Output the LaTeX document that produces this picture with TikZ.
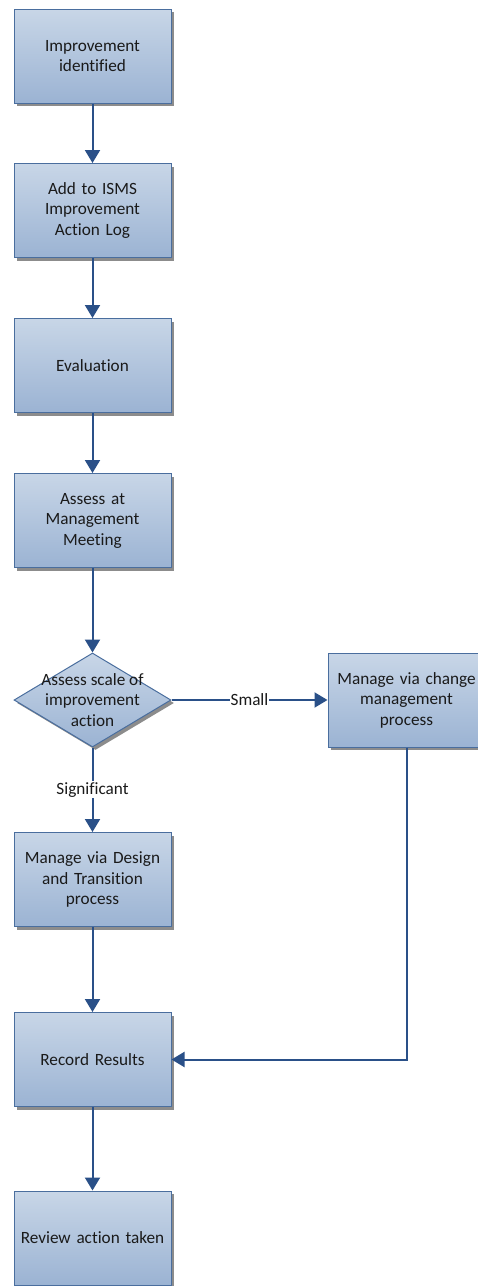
\documentclass[tikz,border=0pt]{standalone}
\usepackage{fontspec}
\setmainfont[Ligatures=NoCommon]{Carlito}
\usetikzlibrary{shapes.geometric,shadows,arrows.meta}

\definecolor{boxtop}{HTML}{C8D6E7}
\definecolor{boxbot}{HTML}{9BB3D3}
\definecolor{boxedge}{HTML}{4A6E9E}
\definecolor{flow}{HTML}{2A5088}
\definecolor{ink}{HTML}{1A1A1A}

\begin{document}
\begin{tikzpicture}[x=1pt, y=1pt, node distance=155pt, auto,
    font=\fontsize{17.2}{20.5}\selectfont, text=ink,
    block/.style={rectangle, draw=boxedge, line width=1pt, top color=boxtop, bottom color=boxbot,
    text width=155pt, align=center, minimum width=157pt, minimum height=94pt,
    inner sep=1pt, drop shadow={shadow xshift=3pt, shadow yshift=-3pt, fill=black!45, opacity=1}},
    decision/.style={diamond, draw=boxedge, line width=1pt, top color=boxtop, bottom color=boxbot,
    minimum width=157pt, minimum height=94pt, inner sep=0pt,
    drop shadow={shadow xshift=3pt, shadow yshift=-3pt, fill=black!45, opacity=1}},
    line/.style={draw=flow, line width=2pt, -{Triangle[length=13pt, width=15pt]}},
    tag/.style={fill=white, inner sep=1pt, anchor=center}]

\useasboundingbox (0,0) rectangle (477,-1286);

\node [block] (found) at (92.5,-56) {Improvement\\identified};
\node [block, below of=found, node distance=154.5pt] (log) {Add to ISMS\\Improvement\\Action Log};
\node [block, below of=log] (eval) {Evaluation};
\node [block, below of=eval] (meeting) {Assess at\\Management\\Meeting};
\node [decision, below of=meeting, node distance=179.5pt,
    label={[align=center]center:Assess scale of\\improvement\\action}] (scale) {};
\node [block, right of=scale, node distance=314pt] (change) {Manage via change\\management\\process};
\node [block, below of=scale, node distance=179.5pt] (design) {Manage via Design\\and Transition\\process};
\node [block, below of=design, node distance=180pt] (record) {Record Results};
\node [block, below of=record, node distance=178.5pt] (review) {Review action taken};

\path [line] (found) -- (log);
\path [line] (log) -- (eval);
\path [line] (eval) -- (meeting);
\path [line] (meeting) -- (scale);
\path [line] (scale) -- node [tag] {Small} (change);
\path [line] (scale) -- node [tag] {Significant} (design);
\path [line] (design) -- (record);
\path [line] (change) |- (record);
\path [line] (record) -- (review);
\end{tikzpicture}
\end{document}
